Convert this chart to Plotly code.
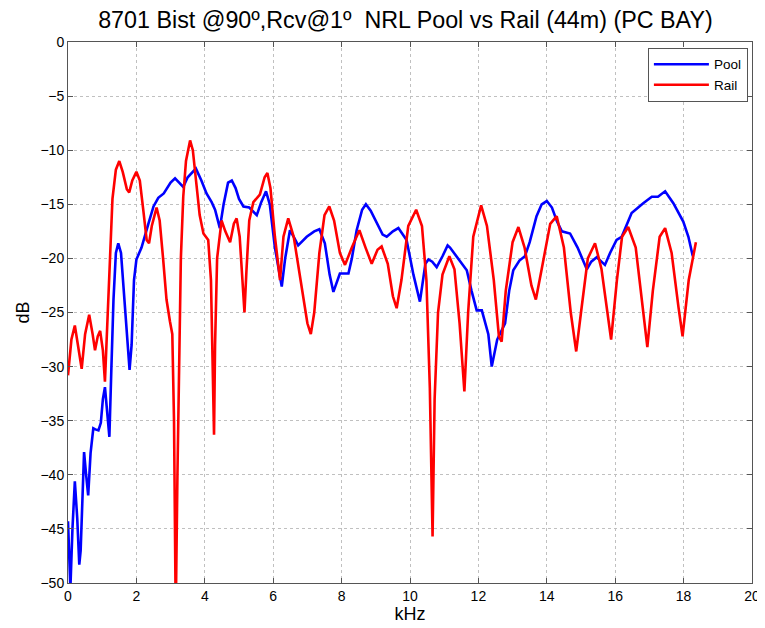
import plotly.graph_objects as go

title_text = "8701 Bist @90º,Rcv@1º  NRL Pool vs Rail (44m) (PC BAY)"

pool_khz = [0.0, 0.07, 0.13, 0.2, 0.27, 0.33, 0.37, 0.42, 0.47, 0.53, 0.59, 0.66, 0.74, 0.8, 0.89, 0.96,
            1.02, 1.08, 1.14, 1.21, 1.27, 1.33, 1.4, 1.47, 1.55, 1.63, 1.72, 1.8, 1.86, 1.93, 2.0, 2.15,
            2.35, 2.5, 2.64, 2.8, 3.0, 3.13, 3.25, 3.37, 3.5, 3.74, 3.9, 4.05, 4.2, 4.3, 4.44, 4.55,
            4.68, 4.79, 4.9, 5.0, 5.13, 5.3, 5.52, 5.65, 5.79, 5.9, 6.05, 6.25, 6.35, 6.49, 6.6, 6.73,
            6.98, 7.2, 7.35, 7.51, 7.65, 7.76, 7.95, 8.2, 8.3, 8.44, 8.6, 8.71, 8.85, 9.03, 9.2, 9.32,
            9.5, 9.66, 9.9, 10.1, 10.29, 10.45, 10.54, 10.65, 10.78, 10.95, 11.1, 11.17, 11.46, 11.66,
            11.8, 11.95, 12.1, 12.29, 12.39, 12.55, 12.78, 12.9, 13.02, 13.2, 13.36, 13.5, 13.7, 13.85,
            14.0, 14.15, 14.3, 14.44, 14.68, 14.9, 15.17, 15.3, 15.46, 15.7, 15.85, 16.04, 16.19, 16.48,
            16.82, 17.07, 17.25, 17.46, 17.7, 17.99, 18.14, 18.27]
pool_db = [-44.3, -50.5, -45, -40.6, -44, -48.3, -47, -42, -37.9, -40, -41.9, -38, -35.7, -35.8, -35.9, -35.2,
           -33, -31.9, -34, -36.5, -30, -23.8, -19.5, -18.6, -19.5, -23, -27, -30.3, -28, -22, -20.1, -19,
           -16.8, -15.2, -14.4, -14, -13, -12.6, -13, -13.4, -12.5, -11.7, -12.8, -14.0, -14.8, -15.5, -17.2, -15,
           -13, -12.8, -13.5, -14.5, -15.2, -15.3, -16.0, -14.8, -13.8, -15, -19, -22.6, -20, -17.4, -18, -18.8,
           -18.0, -17.5, -17.3, -18.6, -21.5, -23.1, -21.4, -21.4, -20, -17.4, -15.5, -15.0, -15.6, -16.8, -17.8, -18.0,
           -17.5, -17.2, -18.3, -21.5, -24.0, -20.5, -20.1, -20.3, -20.8, -19.8, -18.8, -19, -20.3, -21.1,
           -23, -24.8, -24.8, -27, -30.0, -27.5, -26.0, -23, -21.1, -20.2, -19.8, -18.5, -16.1, -15,
           -14.7, -15.3, -16.6, -17.5, -17.7, -19, -21.0, -20.3, -19.9, -20.6, -19.5, -18.3, -18.0, -15.8,
           -14.9, -14.3, -14.3, -13.8, -14.9, -16.6, -18.0, -19.8]

rail_khz = [0.0, 0.1, 0.2, 0.3, 0.4, 0.5, 0.62, 0.72, 0.79, 0.87, 0.94, 1.02, 1.08, 1.15, 1.23, 1.3,
            1.4, 1.5, 1.6, 1.72, 1.79, 1.88, 2.0, 2.1, 2.2, 2.3, 2.37, 2.45, 2.59, 2.68, 2.78, 2.88,
            2.98, 3.05, 3.1, 3.15, 3.2, 3.25, 3.3, 3.37, 3.45, 3.57, 3.65, 3.75, 3.85, 3.96, 4.1, 4.18,
            4.24, 4.27, 4.3, 4.36, 4.49, 4.6, 4.74, 4.85, 4.93, 5.02, 5.1, 5.16, 5.22, 5.3, 5.42, 5.61,
            5.75, 5.83, 5.92, 6.05, 6.2, 6.3, 6.44, 6.6, 6.8, 7.0, 7.1, 7.2, 7.35, 7.5, 7.64, 7.78,
            7.95, 8.1, 8.3, 8.52, 8.7, 8.88, 9.05, 9.17, 9.35, 9.5, 9.61, 9.75, 9.95, 10.18, 10.35, 10.48,
            10.58, 10.66, 10.72, 10.82, 10.95, 11.15, 11.3, 11.45, 11.59, 11.7, 11.85, 12.08, 12.25, 12.45,
            12.6, 12.68, 12.8, 13.0, 13.17, 13.35, 13.55, 13.68, 13.85, 14.1, 14.29, 14.5, 14.7, 14.86,
            15.0, 15.2, 15.41, 15.6, 15.88, 16.05, 16.2, 16.38, 16.6, 16.8, 16.94, 17.1, 17.3, 17.46,
            17.65, 17.85, 17.97, 18.15, 18.36]
rail_db = [-30.8, -27.5, -26.2, -28, -30.2, -27, -25.2, -27, -28.5, -27.2, -26.7, -28.5, -31.4, -26, -20, -14.5,
           -11.8, -11.0, -12, -13.6, -13.9, -12.8, -12.0, -12.8, -15.5, -18.3, -18.6, -17, -15.3, -16.5, -20, -23.8,
           -25.8, -27, -35, -53, -40, -31, -20, -14.3, -11, -9.1, -10, -13, -16, -17.7, -18.3, -22,
           -34, -36.3, -28, -20, -16.5, -17.5, -18.5, -16.8, -16.3, -18, -22, -25, -21, -16.5, -14.8, -14.1,
           -12.5, -12.1, -13.5, -18, -22, -18, -16.3, -18, -22, -26, -27, -25, -19.5, -16, -15.2, -16.5,
           -19.5, -20.6, -19, -17.4, -19, -20.5, -19.2, -18.9, -20.5, -23.5, -24.6, -22, -17, -15.5, -17, -22,
           -32, -45.7, -33, -25, -21.5, -19.8, -21, -26, -32.3, -25, -18, -15.1, -17, -22,
           -27.2, -27.7, -23, -18.5, -17.1, -19, -22.5, -23.8, -21, -16.8, -16.1, -19, -25, -28.6,
           -25, -20, -18.6, -21, -27.5, -22, -18, -17.1, -19, -24.5, -28.2, -23, -18, -17.2,
           -19.5, -24.5, -27.2, -22, -18.5]

x_ticks = [0, 2, 4, 6, 8, 10, 12, 14, 16, 18, 20]
y_ticks = [0, -5, -10, -15, -20, -25, -30, -35, -40, -45, -50]

fig = go.Figure()
fig.add_trace(go.Scatter(x=pool_khz, y=pool_db, mode="lines", name="Pool",
                         line=dict(color="#0000ff", width=2.6)))
fig.add_trace(go.Scatter(x=rail_khz, y=rail_db, mode="lines", name="Rail",
                         line=dict(color="#ff0000", width=2.6)))

axis_common = dict(showline=True, linecolor="#555555", linewidth=1, mirror="ticks",
                   ticks="inside", ticklen=5, tickcolor="#555555",
                   showgrid=True, gridcolor="#c0c0c0", griddash="dot", gridwidth=1,
                   zeroline=False, tickfont=dict(size=14, color="black"), automargin=False)

# page has an 8px body margin, so the figure is sized/margined to compensate
fig.update_layout(
    width=757, height=620,
    margin=dict(l=60, r=13, t=34, b=45),
    paper_bgcolor="white", plot_bgcolor="white",
    font=dict(family="Liberation Sans, Arial, sans-serif", color="black"),
    title=dict(text=title_text, x=0.525, xanchor="center", y=0.981, yanchor="middle",
               font=dict(size=23.3, color="black")),
    xaxis=dict(range=[0, 20], tickvals=x_ticks, title=dict(text="kHz", font=dict(size=18), standoff=1),
               **axis_common),
    yaxis=dict(range=[-50, 0], tickvals=y_ticks, title=dict(text="dB", font=dict(size=18), standoff=6),
               **axis_common),
    legend=dict(x=0.994, y=0.989, xanchor="right", yanchor="top", bgcolor="white",
                bordercolor="#555555", borderwidth=1, font=dict(size=13.5), itemwidth=55,
                tracegroupgap=0),
    showlegend=True,
)

fig.write_html("out.html")
